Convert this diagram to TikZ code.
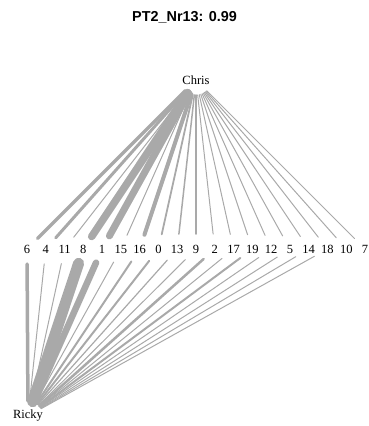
\documentclass[tikz,border=0pt]{standalone}
\usepackage{fontspec}
\setmainfont{Liberation Serif}
\setsansfont{Liberation Sans}
\definecolor{edgegray}{RGB}{169,169,169}
\begin{document}
\begin{tikzpicture}[x=1pt,y=-1pt,
  vtx/.style={circle,minimum size=30pt,inner sep=0pt,outer sep=0pt},
  lab/.style={font=\fontsize{12.5}{15}\selectfont,inner sep=0pt,text=black},
  edge/.style={draw=edgegray,line cap=round}]
\useasboundingbox (0,0) rectangle (369,426);
\node[font=\sffamily\bfseries\fontsize{14.4}{17}\selectfont] (title) at (184.5,17) {PT2\_Nr13: 0.99};
\node[vtx,label={[lab]center:Chris}] (chris) at (196,80) {};
\node[vtx,label={[lab]center:Ricky}] (ricky) at (28,416) {};
\foreach \lbl [count=\i from 0] in {6,4,11,8,1,15,16,0,13,9,2,17,19,12,5,14,18,10,7}{
  \node[vtx,label={[lab]center:\lbl}] (n\lbl) at ({27+18.78*\i},249) {};
}
% Chris edges
\foreach \t/\w in {6/3.5,4/3,11/1,8/7.5,1/7,15/1,16/4,0/1.8,13/1.5,9/1.6,2/1,17/1,19/1,12/1,5/1,14/1,18/1,10/1,7/1}{
  \draw[edge,line width=\w pt] (chris) -- (n\t);
}
% Ricky edges
\foreach \t/\w in {6/3.5,4/1,11/1,8/11,1/6.5,15/1,16/2,0/2,13/1.2,9/1,2/2.5,17/1,19/2,12/1,5/1,14/1,18/1}{
  \draw[edge,line width=\w pt] (ricky) -- (n\t);
}
\end{tikzpicture}
\end{document}
